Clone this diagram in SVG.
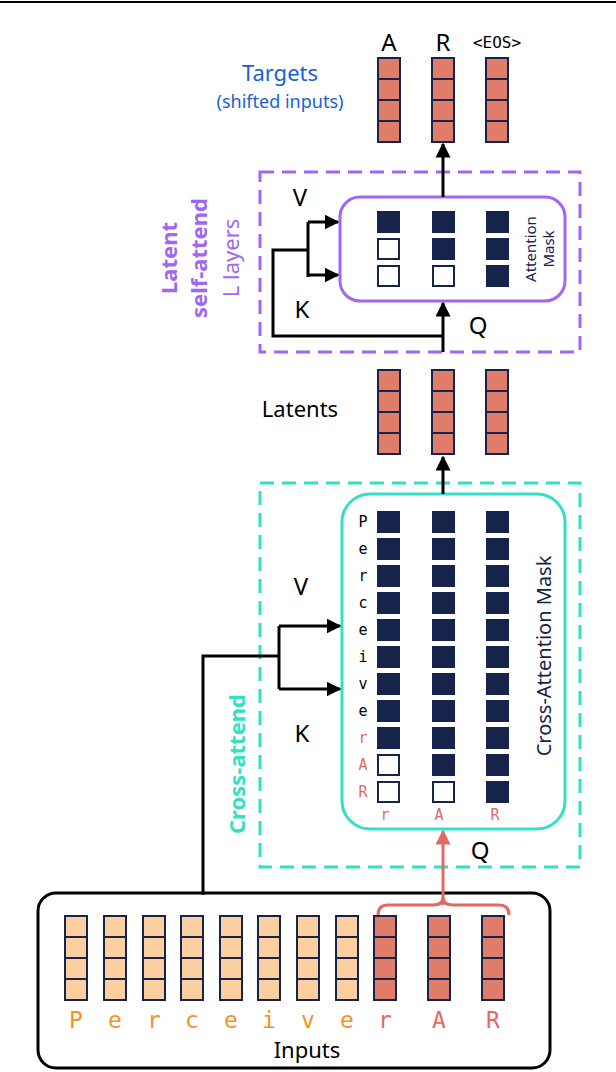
<svg xmlns="http://www.w3.org/2000/svg" width="616" height="1072" viewBox="0 0 616 1072">
<defs>
<style>
.r{fill:#df7d6a}.l{fill:#fbcf9f}
.d{fill:#16234a}.w{fill:#fff;stroke:#16234a;stroke-width:2}
.wire{fill:none;stroke:#000;stroke-width:3}
.sans{font-family:"Noto Sans","Liberation Sans",sans-serif}
.mono{font-family:"DejaVu Sans Mono","Liberation Mono",monospace}
</style>
<marker id="ah" viewBox="0 0 10 10" refX="9" refY="5" markerWidth="5" markerHeight="5" orient="auto-start-reverse"><path d="M0,0L10,5L0,10z" fill="#000"/></marker>
<marker id="ahr" viewBox="0 0 10 10" refX="9" refY="5" markerWidth="5" markerHeight="5" orient="auto-start-reverse"><path d="M0,0L10,5L0,10z" fill="#e06b66"/></marker>
<g id="col" stroke="#16234a" stroke-width="2"><rect x="0" y="0" width="22" height="21"/><rect x="0" y="21" width="22" height="21"/><rect x="0" y="42" width="22" height="21"/><rect x="0" y="63" width="22" height="21"/></g>
</defs>
<rect width="616" height="1072" fill="#fff"/>
<line x1="0" y1="2" x2="616" y2="2" stroke="#000" stroke-width="2"/>

<g id="targets">
<text class="sans" x="280" y="81" font-size="22" fill="#1a5fd6" text-anchor="middle">Targets</text>
<text class="sans" x="280" y="108" font-size="18" fill="#1a5fd6" text-anchor="middle">(shifted inputs)</text>
<text class="sans" x="389" y="51" font-size="24" text-anchor="middle">A</text>
<text class="sans" x="443" y="51" font-size="24" text-anchor="middle">R</text>
<text class="mono" x="497" y="48" font-size="16" text-anchor="middle">&lt;EOS&gt;</text>
<g class="r"><use href="#col" x="378" y="58"/><use href="#col" x="432" y="58"/><use href="#col" x="486" y="58"/></g>
</g>

<g id="selfattend">
<rect x="260" y="172" width="320" height="180" fill="none" stroke="#a066f5" stroke-width="3" stroke-dasharray="14,8"/>
<rect x="340" y="197" width="225" height="104" rx="20" fill="#fff" stroke="#a066f5" stroke-width="3"/>
<rect x="377" y="211" width="23" height="22" class="d"/><rect x="432" y="211" width="23" height="22" class="d"/><rect x="486" y="211" width="23" height="22" class="d"/>
<rect x="378" y="239" width="21" height="20" class="w"/><rect x="432" y="238" width="23" height="22" class="d"/><rect x="486" y="238" width="23" height="22" class="d"/>
<rect x="378" y="266" width="21" height="20" class="w"/><rect x="433" y="266" width="21" height="20" class="w"/><rect x="486" y="265" width="23" height="22" class="d"/>
<text class="sans" transform="translate(536,249) rotate(-90)" font-size="15" fill="#16234a" text-anchor="middle">Attention</text>
<text class="sans" transform="translate(554,249) rotate(-90)" font-size="15" fill="#16234a" text-anchor="middle">Mask</text>
<text class="sans" x="300" y="206" font-size="24" text-anchor="middle">V</text>
<text class="sans" x="302" y="318" font-size="24" text-anchor="middle">K</text>
<text class="sans" x="478" y="334" font-size="24" text-anchor="middle">Q</text>
<text class="sans" transform="translate(177,258) rotate(-90)" font-size="22" font-weight="bold" fill="#a066f5" text-anchor="middle">Latent</text>
<text class="sans" transform="translate(207,258) rotate(-90)" font-size="22" font-weight="bold" fill="#a066f5" text-anchor="middle">self-attend</text>
<text class="sans" transform="translate(239,258) rotate(-90)" font-size="22" fill="#a066f5" text-anchor="middle">L layers</text>
</g>

<g id="latents">
<text class="sans" x="300" y="417" font-size="22" text-anchor="middle">Latents</text>
<g class="r"><use href="#col" x="378" y="370"/><use href="#col" x="432" y="370"/><use href="#col" x="486" y="370"/></g>
</g>

<g id="crossattend">
<rect x="260" y="483" width="320" height="384" fill="none" stroke="#33e0c6" stroke-width="3" stroke-dasharray="14,8"/>
<rect x="342" y="494" width="223" height="335" rx="28" fill="#fff" stroke="#33e0c6" stroke-width="3"/>
<g class="d">
<rect x="377" y="511" width="23" height="22"/><rect x="377" y="538" width="23" height="22"/><rect x="377" y="565" width="23" height="22"/><rect x="377" y="592" width="23" height="22"/><rect x="377" y="619" width="23" height="22"/><rect x="377" y="646" width="23" height="22"/><rect x="377" y="673" width="23" height="22"/><rect x="377" y="700" width="23" height="22"/><rect x="377" y="727" width="23" height="22"/>
<rect x="432" y="511" width="23" height="22"/><rect x="432" y="538" width="23" height="22"/><rect x="432" y="565" width="23" height="22"/><rect x="432" y="592" width="23" height="22"/><rect x="432" y="619" width="23" height="22"/><rect x="432" y="646" width="23" height="22"/><rect x="432" y="673" width="23" height="22"/><rect x="432" y="700" width="23" height="22"/><rect x="432" y="727" width="23" height="22"/><rect x="432" y="754" width="23" height="22"/>
<rect x="486" y="511" width="23" height="22"/><rect x="486" y="538" width="23" height="22"/><rect x="486" y="565" width="23" height="22"/><rect x="486" y="592" width="23" height="22"/><rect x="486" y="619" width="23" height="22"/><rect x="486" y="646" width="23" height="22"/><rect x="486" y="673" width="23" height="22"/><rect x="486" y="700" width="23" height="22"/><rect x="486" y="727" width="23" height="22"/><rect x="486" y="754" width="23" height="22"/><rect x="486" y="781" width="23" height="22"/>
</g>
<rect x="378" y="755" width="21" height="20" class="w"/><rect x="378" y="782" width="21" height="20" class="w"/><rect x="433" y="782" width="21" height="20" class="w"/>
<g class="mono" font-size="15" text-anchor="middle">
<text x="363" y="527">P</text><text x="363" y="554">e</text><text x="363" y="581">r</text><text x="363" y="608">c</text><text x="363" y="635">e</text><text x="363" y="662">i</text><text x="363" y="689">v</text><text x="363" y="716">e</text>
<g fill="#e06b66"><text x="363" y="743">r</text><text x="363" y="770">A</text><text x="363" y="797">R</text>
<text x="385" y="820">r</text><text x="439" y="820">A</text><text x="495" y="820">R</text></g>
</g>
<text class="sans" transform="translate(551,656) rotate(-90)" font-size="20" fill="#16234a" text-anchor="middle">Cross-Attention Mask</text>
<text class="sans" x="301" y="595" font-size="24" text-anchor="middle">V</text>
<text class="sans" x="302" y="742" font-size="24" text-anchor="middle">K</text>
<text class="sans" x="480" y="859" font-size="24" text-anchor="middle">Q</text>
<text class="sans" transform="translate(245,764) rotate(-90)" font-size="22" font-weight="bold" fill="#33e0c6" text-anchor="middle">Cross-attend</text>
</g>

<g id="inputs">
<rect x="38" y="893" width="512" height="175" rx="18" fill="#fff" stroke="#000" stroke-width="3"/>
<g class="l"><use href="#col" x="65" y="916"/><use href="#col" x="104" y="916"/><use href="#col" x="143" y="916"/><use href="#col" x="181" y="916"/><use href="#col" x="220" y="916"/><use href="#col" x="258" y="916"/><use href="#col" x="297" y="916"/><use href="#col" x="336" y="916"/></g>
<g class="r"><use href="#col" x="374" y="916"/><use href="#col" x="428" y="916"/><use href="#col" x="482" y="916"/></g>
<g class="mono" font-size="23" text-anchor="middle" fill="#f7941d">
<text x="76" y="1028">P</text><text x="115" y="1028">e</text><text x="154" y="1028">r</text><text x="192" y="1028">c</text><text x="231" y="1028">e</text><text x="269" y="1028">i</text><text x="308" y="1028">v</text><text x="347" y="1028">e</text>
<g fill="#e06b66"><text x="385" y="1028">r</text><text x="439" y="1028">A</text><text x="493" y="1028">R</text></g>
</g>
<text class="sans" x="307" y="1058" font-size="22" text-anchor="middle">Inputs</text>
</g>

<g id="connectors">
<path class="wire" d="M443,197V144" marker-end="url(#ah)"/>
<path class="wire" d="M443,352V303" marker-end="url(#ah)"/>
<path class="wire" d="M443,336H273V250H308"/>
<path class="wire" d="M308,222V277"/>
<path class="wire" d="M308,222H338" marker-end="url(#ah)"/>
<path class="wire" d="M308,275H338" marker-end="url(#ah)"/>
<path class="wire" d="M443,494V457" marker-end="url(#ah)"/>
<path class="wire" d="M203,895V656H279"/>
<path class="wire" d="M279,626V689"/>
<path class="wire" d="M279,626H340" marker-end="url(#ah)"/>
<path class="wire" d="M279,689H340" marker-end="url(#ah)"/>
<path d="M443,905V831" fill="none" stroke="#e06b66" stroke-width="3" marker-end="url(#ahr)"/>
<path d="M378,915Q378,905 388,905H433Q443,905 443,897Q443,905 453,905H499Q509,905 509,915" fill="none" stroke="#e06b66" stroke-width="3"/>
</g>
</svg>
